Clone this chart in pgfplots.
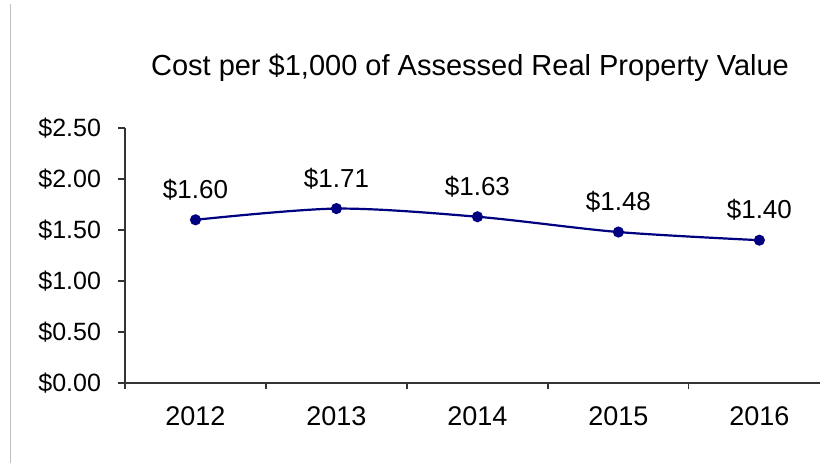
\documentclass[border=0pt]{standalone}
\usepackage{pgfplots}
\pgfplotsset{compat=1.18}
\usepackage{fontspec}
\setmainfont{Liberation Sans}
\definecolor{navy}{RGB}{0,0,128}
\begin{document}
\begin{tikzpicture}
\path[use as bounding box] (0,0) rectangle (410pt,231.5pt);
\draw[gray!50, line width=0.5pt] (5pt,0) -- (5pt,229.5pt);
\begin{axis}[
  at={(62.5pt,40pt)}, anchor=south west,
  scale only axis, width=347.5pt, height=127.5pt,
  xmin=2011.5, xmax=2016.43, ymin=0, ymax=2.5,
  axis x line*=bottom, axis y line*=left,
  axis line style={black!80, line width=0.6pt},
  xtick={2012,2013,2014,2015,2016},
  xticklabels={2012,2013,2014,2015,2016},
  major x tick style={draw=none},
  minor xtick={2011.5,2012.5,2013.5,2014.5,2015.5},
  minor tick length=3pt,
  minor x tick style={black!80, line width=0.6pt},
  ytick={0,0.5,1,1.5,2,2.5},
  major tick length=3.5pt,
  tick align=outside,
  y tick style={black!80, line width=0.6pt},
  /pgf/number format/assume math mode=true,
  yticklabel={\$\pgfmathprintnumber[fixed,fixed zerofill,precision=2]{\tick}},
  yticklabel style={font=\fontsize{12.5}{14}\selectfont, xshift=-5pt},
  xticklabel style={font=\fontsize{13.5}{15}\selectfont, yshift=-5pt},
  nodes near coords={\$\pgfmathprintnumber[fixed,fixed zerofill,precision=2,assume math mode=true]{\pgfplotspointmeta}},
  nodes near coords style={font=\fontsize{13}{15}\selectfont, text=black, anchor=south, yshift=6pt},
  clip=false,
]
\addplot[navy, line width=1.1pt, smooth, mark=*, mark size=2.2pt, mark options={fill=navy}]
  coordinates {(2012,1.60) (2013,1.71) (2014,1.63) (2015,1.48) (2016,1.40)};
\end{axis}
\node[font=\fontsize{14.5}{17}\selectfont] at (235pt,197.5pt) {Cost per \$1,000 of Assessed Real Property Value};
\end{tikzpicture}
\end{document}
